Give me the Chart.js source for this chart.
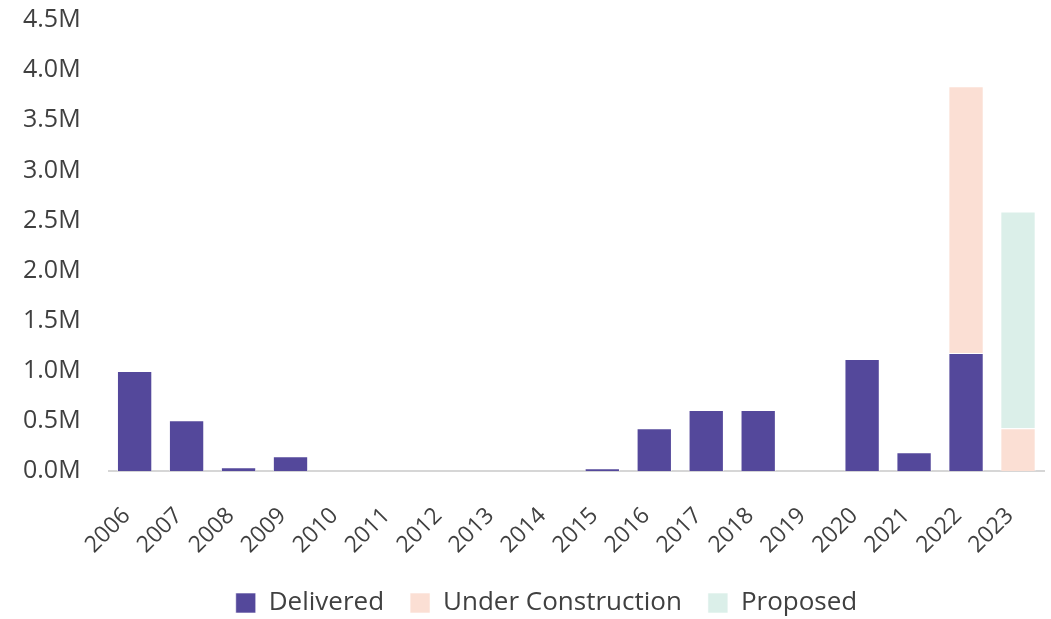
<!DOCTYPE html>
<html>
<head>
<meta charset="utf-8">
<script src="https://cdn.jsdelivr.net/npm/chart.js@4"></script>
<style>
  html, body { margin: 0; padding: 0; background: #fff; overflow: hidden; }
  body { width: 1051px; height: 619px; position: relative; }
  #wrap { width: 1056px; height: 649px; position: absolute; left: -5px; top: -23px; }
</style>
</head>
<body>
<div id="wrap"><canvas id="chart"></canvas></div>
<script>
  const years = ['2006', '2007', '2008', '2009', '2010', '2011', '2012', '2013', '2014',
    '2015', '2016', '2017', '2018', '2019', '2020', '2021', '2022', '2023'];
  // values in square feet
  const delivered = [1000000, 510000, 40000, 150000, 0, 0, 0, 0, 0,
    30000, 430000, 610000, 610000, 0, 1120000, 190000, 1180000, 0];
  const underConstruction = [0, 0, 0, 0, 0, 0, 0, 0, 0,
    0, 0, 0, 0, 0, 0, 0, 2660000, 430000];
  const proposed = [0, 0, 0, 0, 0, 0, 0, 0, 0,
    0, 0, 0, 0, 0, 0, 0, 0, 2160000];

  const TEXT = '#404040';
  const FONT = 'Open Sans';

  function ds(label, data, color) {
    return {
      label, data,
      backgroundColor: color,
      borderColor: 'rgba(255,255,255,0.6)',
      borderWidth: 1,
      barPercentage: 0.68,
      categoryPercentage: 1
    };
  }

  // nudge the legend a bit right, the original sits off-centre
  const legendShift = {
    id: 'legendShift',
    afterLayout(chart) {
      chart.legend.left += 27;
      chart.legend.right += 27;
    }
  };

  new Chart(document.getElementById('chart'), {
    type: 'bar',
    data: {
      labels: years,
      datasets: [
        ds('Delivered', delivered, '#54489b'),
        ds('Under Construction', underConstruction, '#fbdfd4'),
        ds('Proposed', proposed, '#dbefe9')
      ]
    },
    options: {
      responsive: true,
      maintainAspectRatio: false,
      animation: false,
      layout: { padding: { top: 0, right: 7, left: 0, bottom: 0 } },
      plugins: {
        legend: {
          position: 'bottom',
          labels: {
            color: TEXT,
            font: { family: FONT, size: 26 },
            boxWidth: 20,
            boxHeight: 20,
            padding: 26
          }
        },
        tooltip: { enabled: false }
      },
      scales: {
        x: {
          stacked: true,
          // invisible tick marks give the gap below the axis line
          grid: { display: true, drawOnChartArea: false, drawTicks: true, tickLength: 25, color: 'rgba(0,0,0,0)' },
          border: { display: true, color: '#d6d6d6', width: 2 },
          ticks: {
            color: TEXT,
            font: { family: FONT, size: 23 },
            maxRotation: 45,
            minRotation: 45,
            padding: 6,
            labelOffset: -8
          },
          afterFit: s => { s.height -= 1; }
        },
        y: {
          stacked: true,
          min: 0,
          max: 4500000,
          grid: { display: false, drawTicks: false },
          border: { display: false },
          ticks: {
            stepSize: 500000,
            color: TEXT,
            font: { family: FONT, size: 25 },
            padding: 28,
            callback: v => (v / 1e6).toFixed(1) + 'M'
          }
        }
      }
    },
    plugins: [legendShift]
  });
</script>
</body>
</html>
